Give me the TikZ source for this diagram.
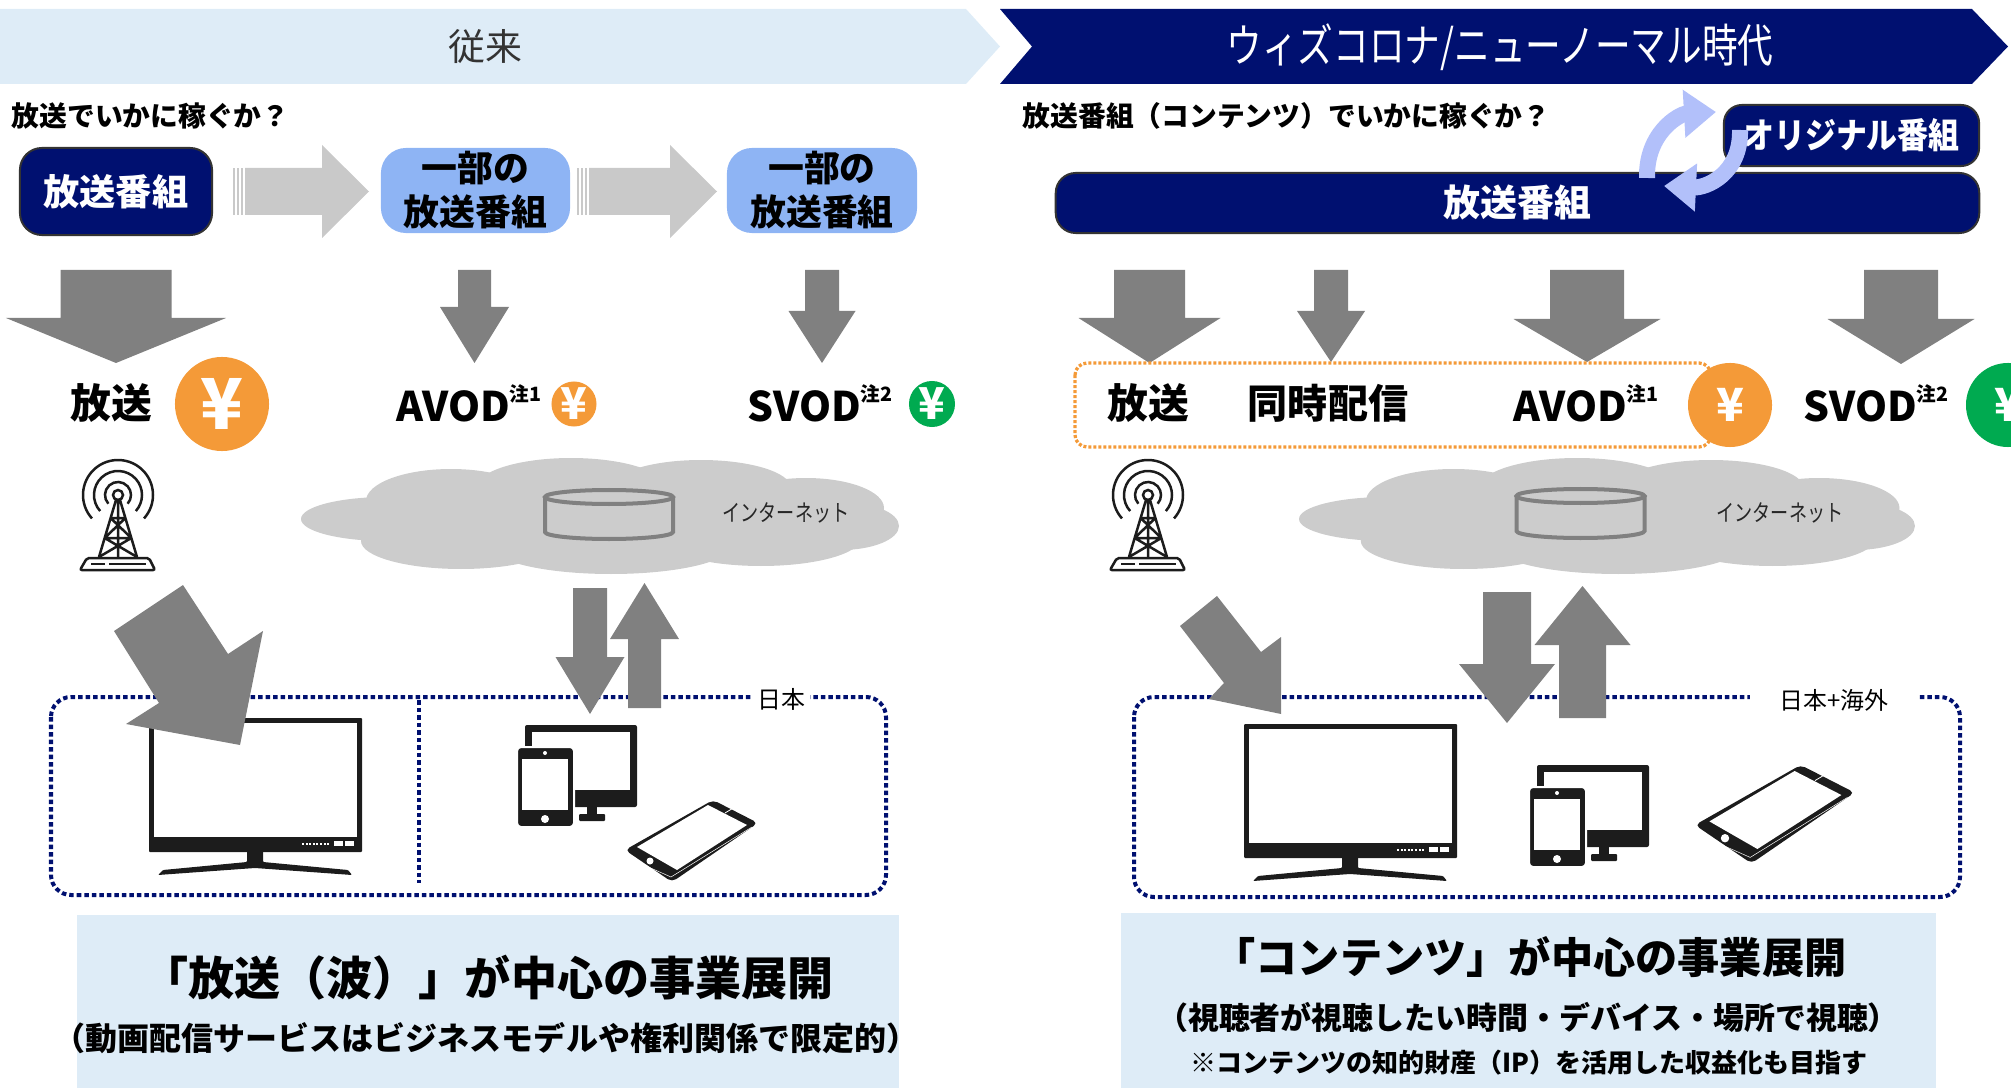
\documentclass[tikz,border=0pt]{standalone}
\usepackage{fontspec}
\usepackage{xcolor}
\usetikzlibrary{shapes}
\usetikzlibrary{positioning}
\usetikzlibrary{arrows.meta}

\setmainfont{Noto Sans CJK JP}
\newfontfamily\jpn[FakeStretch=0.78]{Noto Sans CJK JP}
\newfontfamily\jpm[FakeStretch=0.88]{Noto Sans CJK JP}

\definecolor{navy}{RGB}{0,16,112}
\definecolor{paleblue}{RGB}{222,236,247}
\definecolor{boxblue}{RGB}{142,180,244}
\definecolor{arrowgray}{RGB}{128,128,128}
\definecolor{hintgray}{RGB}{201,201,201}
\definecolor{cloudgray}{RGB}{204,204,204}
\definecolor{yenorange}{RGB}{244,154,56}
\definecolor{yengreen}{RGB}{0,170,80}
\definecolor{cyclecol}{RGB}{178,192,250}
\definecolor{iconblack}{RGB}{28,28,28}

% footnote mark after a service name
\newcommand\notemark[1]{\raisebox{0.9ex}{\bfseries\fontsize{5.6}{6}\selectfont #1}}
% block arrow: x, base y, shaft half, head half, head y, tip y
\newcommand\fatarrow[6]{%
  \fill[arrowgray] (#1-#3,#2) -- (#1+#3,#2) -- (#1+#3,#5) -- (#1+#4,#5)
    -- (#1,#6) -- (#1-#4,#5) -- (#1-#3,#5) -- cycle;}
% light arrow between the programme boxes: tail x, head x, tip x
\newcommand\grayright[3]{%
  \foreach \s in {0,4,8} \fill[hintgray] (#1+\s,168) rectangle ++(2,47);
  \fill[hintgray] (#1+12,168) -- (#2,168) -- (#2,145) -- (#3,191.5)
    -- (#2,238) -- (#2,215) -- (#1+12,215) -- cycle;}

\tikzset{
  pics/tower/.style={code={
    \draw[iconblack, line width=0.025cm] (0,0) circle (5);
    \foreach \r in {13,24,35}
      \draw[iconblack, line width=0.025cm] (138:\r) arc[start angle=138, end angle=402, radius=\r];
    \draw[iconblack, line width=0.025cm] (-2,5) -- (-19,62) (2,5) -- (19,62) (0,5) -- (0,62)
      (-7.4,23) -- (7.4,23) (-13.3,43) -- (13.3,43)
      (-7.4,23) -- (13.3,43) (7.4,23) -- (-13.3,43)
      (-13.3,43) -- (19,62) (13.3,43) -- (-19,62);
    \draw[iconblack, line width=0.025cm, rounded corners=0.02cm] (-31,63) -- (31,63) -- (37,75) -- (-38,75) -- cycle;
    \draw[iconblack, line width=0.02cm] (-27,69) -- (-13,69) (-9,69) -- (28,69);
  }},
  pics/tv/.style={code={
    \fill[iconblack, rounded corners=0.01cm] (0,0) rectangle (213,134);
    \fill[white] (5,5) rectangle (208,119);
    \foreach \i in {0,...,7} \fill[white] (153+\i*3.6,125) rectangle ++(2,2);
    \fill[white] (185,123) rectangle (194,128);
    \fill[white] (196,123) rectangle (205,128);
    \fill[iconblack, rounded corners=0.01cm] (98,133) -- (114,133) -- (114,144) -- (199,152)
      -- (203,157) -- (106,150) -- (9,157) -- (14,152) -- (98,144) -- cycle;
  }},
  pics/handsets/.style={code={
    \fill[iconblack, rounded corners=0.02cm] (8,0) rectangle (120,82);
    \fill[white] (15,7) rectangle (113,65);
    \fill[iconblack] (70,80) rectangle (80,90);
    \fill[iconblack, rounded corners=0.01cm] (62,89) rectangle (88,96);
    \filldraw[fill=iconblack, draw=white, line width=0.02cm, rounded corners=0.04cm] (0,22) rectangle (57,102);
    \fill[white] (5,34) rectangle (51,85);
    \fill[white] (28,28) circle (2);
    \fill[white] (28,94) circle (4);
  }},
  pics/flatphone/.style={code={
    \fill[iconblack, rounded corners=0.05cm] (0,0) -- (88,-50) -- (133,-27) -- (47,32) -- cycle;
    \fill[white] (12,-3) -- (83,-45) -- (122,-25) -- (52,20) -- cycle;
    \draw[white, line width=0.005cm] (3,8) -- (46,27) -- (127,-23);
    \fill[white] (25,11) circle (3.5);
    \draw[white, line width=0.008cm] (100,-37) -- (110,-43);
  }},
  pics/cloud/.style={code={
    \fill[cloudgray] (0,5) ellipse (240 and 42);
    \fill[cloudgray] (-150,-15) ellipse (85 and 32);
    \fill[cloudgray] (-30,-28) ellipse (95 and 30);
    \fill[cloudgray] (100,-28) ellipse (90 and 28);
    \fill[cloudgray] (205,-8) ellipse (78 and 30);
    \fill[cloudgray] (-215,3) ellipse (85 and 22);
    \fill[cloudgray] (240,10) ellipse (58 and 24);
    \fill[cloudgray] (-140,25) ellipse (100 and 28);
    \fill[cloudgray] (10,30) ellipse (120 and 28);
    \fill[cloudgray] (160,22) ellipse (100 and 28);
  }},
  pics/dbcyl/.style={code={
    \draw[arrowgray, line width=0.04cm] (0,0) ellipse (64 and 7);
    \draw[arrowgray, line width=0.04cm] (-64,0) -- (-64,35) arc[start angle=180, end angle=0, x radius=64, y radius=7] -- (64,0);
  }},
}

\begin{document}
\begin{tikzpicture}[x=0.01cm,y=-0.01cm]
        \tikzstyle{navybox}=[rectangle,rounded corners=0.22cm,fill=navy,draw=black!80,line width=0.02cm,text=white,inner sep=0,font=\bfseries\fontsize{10.3}{12}\selectfont]
        \tikzstyle{bluebox}=[rectangle,rounded corners=0.25cm,fill=boxblue,inner sep=0,align=center,font=\bfseries\fontsize{10.2}{12.5}\selectfont]
        \tikzstyle{yen}=[circle,inner sep=0,text=white]
        \tikzstyle{outlet}=[inner sep=0,font=\bfseries\fontsize{11.6}{12}\selectfont]
        \tikzstyle{netname}=[inner sep=0,text=black!85,font=\jpn\fontsize{6.6}{7}\selectfont]
        \tikzstyle{dots}=[draw=navy,line width=0.04cm,dash pattern=on 0.045cm off 0.03cm,rounded corners=0.2cm]
        \tikzstyle{regionlbl}=[fill=white,inner sep=0.05cm,font=\fontsize{6.8}{7}\selectfont]
        \tikzstyle{cyclearrow}=[draw=cyclecol,line width=0.16cm,-{Triangle[width=0.46cm,length=0.32cm]}]
        \useasboundingbox (0,0) rectangle (2011,1088);
        \clip (0,0) rectangle (2011,1088);

        % era bands
        \fill[paleblue] (0,9) -- (966,9) -- (1000,46.5) -- (966,84) -- (0,84) -- cycle;
        \fill[navy] (1000,9) -- (1972,9) -- (2008,46.5) -- (1972,84) -- (1000,84) -- (1032,46.5) -- cycle;
        \node [text=black!80,font=\fontsize{10.5}{11}\selectfont] (eraold) at (485,47) {従来};
        \node [text=white,font=\jpn\fontsize{13}{13}\selectfont] (eranew) at (1500,47) {ウィズコロナ/ニューノーマル時代};

        \node [anchor=west,inner sep=0,font=\bfseries\fontsize{7.9}{8}\selectfont] (qold) at (11,116) {放送でいかに稼ぐか？};
        \node [anchor=west,inner sep=0,font=\bfseries\fontsize{7.9}{8}\selectfont] (qnew) at (1022,116) {放送番組（コンテンツ）でいかに稼ぐか？};

        % programmes, old model
        \node [navybox,minimum width=1.92cm,minimum height=0.87cm] (progold) at (116,191.5) {放送番組};
        \node [bluebox,minimum width=1.89cm,minimum height=0.85cm] (parta) at (475.5,190.5) {一部の\\放送番組};
        \node [bluebox,minimum width=1.90cm,minimum height=0.85cm] (partb) at (822,190.5) {一部の\\放送番組};
        \grayright{233}{322}{369}
        \grayright{577}{670}{717}

        % programmes, new model
        \node [navybox,minimum width=9.23cm,minimum height=0.6cm,rounded corners=0.2cm,font=\bfseries\fontsize{10.5}{12}\selectfont] (prognew) at (1517.5,203) {放送番組};
        \node [navybox,minimum width=2.55cm,minimum height=0.61cm,rounded corners=0.18cm,font=\jpm\bfseries\fontsize{10}{12}\selectfont] (original) at (1851.5,135.5) {オリジナル番組};
        \draw[cyclearrow] (1647,178) .. controls (1646,132) and (1680,114) .. (1716,112);
        \draw[cyclearrow] (1740,130) .. controls (1741,174) and (1706,188) .. (1664,186);

        % delivery arrows
        \fatarrow{116}{270}{55.5}{110}{318}{363}
        \fatarrow{474.5}{270}{16.5}{34.5}{307}{363}
        \fatarrow{822}{270}{17}{33.5}{311}{363}
        \fatarrow{1149.5}{270}{35.5}{71}{318}{363}
        \fatarrow{1331}{270}{17}{34}{311}{362}
        \fatarrow{1587}{270}{37}{73.5}{319}{362}
        \fatarrow{1901}{270}{37}{73.5}{319}{364}

        % outlets and revenue
        \node [outlet] (bcold) at (111,403) {放送};
        \node [yen,fill=yenorange,minimum size=0.94cm,font=\bfseries\fontsize{20}{20}\selectfont] (yenbc) at (222,404) {¥};
        \node [outlet] (avodold) at (469,403) {AVOD\notemark{注1}};
        \node [yen,fill=yenorange,minimum size=0.45cm,font=\bfseries\fontsize{12.5}{13}\selectfont] (yenavod) at (574,404) {¥};
        \node [outlet] (svodold) at (820,403) {SVOD\notemark{注2}};
        \node [yen,fill=yengreen,minimum size=0.46cm,font=\bfseries\fontsize{12.5}{13}\selectfont] (yensvod) at (932,404) {¥};

        \draw[yenorange,line width=0.033cm,dash pattern=on 0.03cm off 0.02cm,rounded corners=0.12cm] (1075,363) rectangle (1711,447);
        \node [outlet] (bcnew) at (1148,403) {放送};
        \node [outlet,font=\bfseries\fontsize{11.4}{12}\selectfont] (simul) at (1328,403) {同時配信};
        \node [outlet] (avodnew) at (1586,403) {AVOD\notemark{注1}};
        \node [yen,fill=yenorange,minimum size=0.84cm,font=\bfseries\fontsize{13}{13}\selectfont] (yenall) at (1730,405) {¥};
        \node [outlet] (svodnew) at (1876,403) {SVOD\notemark{注2}};
        \node [yen,fill=yengreen,minimum size=0.84cm,font=\bfseries\fontsize{13}{13}\selectfont] (yensvodnew) at (2008,405) {¥};

        % transmitters and the net
        \pic at (118,495) {tower};
        \pic at (1148,495) {tower};
        \pic at (601,516) {cloud};
        \pic[xscale=1.03] at (1608,516) {cloud};
        \pic at (609,497) {dbcyl};
        \pic at (1580.5,496) {dbcyl};
        \node [netname] (netold) at (786,513) {インターネット};
        \node [netname] (netnew) at (1780,513) {インターネット};

        % viewing areas
        \draw[dots] (51,697) rectangle (886,895);
        \draw[dots,rounded corners=0] (419,700) -- (419,883);
        \draw[dots] (1134,697) rectangle (1960,897);
        \node [regionlbl] (japan) at (781,699) {日本};
        \node [regionlbl,inner xsep=0.3cm] (world) at (1834,700) {日本+海外};

        % receivers
        \pic at (149,718) {tv};
        \pic at (1244,724) {tv};
        \pic at (517,725) {handsets};
        \pic at (1529,765) {handsets};
        \pic at (625,850) {flatphone};
        \pic[scale=1.2] at (1695,825) {flatphone};

        % broadcast waves and streaming traffic
        \fill[arrowgray] (183,585) -- (228,654) -- (263,631) -- (240,745) -- (126,724) -- (159,703) -- (114,631) -- cycle;
        \fill[arrowgray] (1217,596) -- (1261,652) -- (1281,637) -- (1281,714) -- (1209,699) -- (1224,683) -- (1180,626) -- cycle;
        \fatarrow{590}{588}{17}{34.5}{657}{714}
        \fatarrow{644.5}{708}{16.5}{34.5}{639}{583}
        \fatarrow{1507}{592}{24}{48}{664}{723}
        \fatarrow{1582.5}{718}{23.5}{48}{645}{586}

        % summaries
        \fill[paleblue] (77,915) rectangle (899,1088);
        \fill[paleblue] (1121,913) rectangle (1936,1088);
        \node [font=\bfseries\fontsize{13.1}{14}\selectfont] (sumold) at (488,978) {「放送（波）」が中心の事業展開};
        \node [font=\bfseries\fontsize{9.1}{10}\selectfont] (subold) at (486,1038) {（動画配信サービスはビジネスモデルや権利関係で限定的）};
        \node [font=\bfseries\fontsize{12}{13}\selectfont] (sumnew) at (1530,957) {「コンテンツ」が中心の事業展開};
        \node [font=\bfseries\fontsize{8.8}{9}\selectfont] (subnew) at (1528,1018) {（視聴者が視聴したい時間・デバイス・場所で視聴）};
        \node [font=\bfseries\fontsize{7.4}{8}\selectfont] (ipnew) at (1529,1063) {※コンテンツの知的財産（IP）を活用した収益化も目指す};
      \end{tikzpicture}
\end{document}
